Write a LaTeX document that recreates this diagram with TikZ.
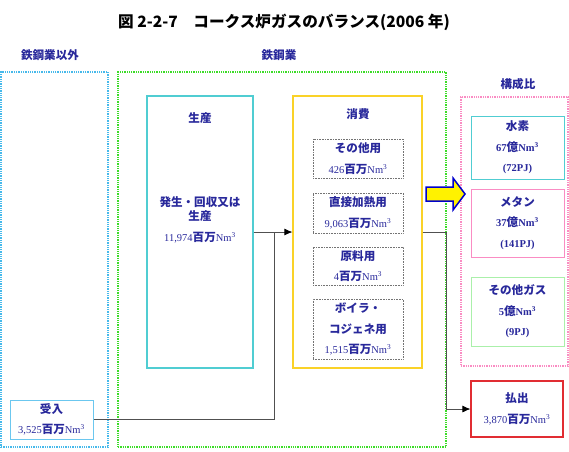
\documentclass[tikz,border=0pt]{standalone}
\usepackage{fontspec}
\setmainfont{Liberation Serif}
\newfontfamily\jpfont[Scale=1.1]{Noto Sans CJK JP}
\usepackage{tikz}
\usetikzlibrary{arrows.meta,positioning}
\definecolor{BalNavy}{RGB}{40,40,155}
\definecolor{BalCyan}{RGB}{70,185,235}
\definecolor{BalTeal}{RGB}{80,205,210}
\definecolor{BalGreen}{RGB}{60,220,40}
\definecolor{BalPink}{RGB}{250,140,195}
\definecolor{BalGold}{RGB}{250,210,40}
\definecolor{BalRed}{RGB}{225,45,50}
\definecolor{BalMint}{RGB}{170,240,170}
\definecolor{BalLine}{RGB}{80,80,80}
\newcommand{\jp}[1]{{\jpfont\bfseries #1}}
\newcommand{\mnm}{\jp{百万}Nm\textsuperscript{3}}
\newcommand{\onm}{\jp{億}Nm\textsuperscript{3}}

\begin{document}
\begin{tikzpicture}[
    x=1pt, y=-1pt,
    txt/.style={text=BalNavy, font=\fontsize{10.5}{20.5}\selectfont, align=center, inner sep=0pt},
    zone/.style={densely dotted, line width=1.3pt, minimum width=#1, inner sep=0pt},
    box/.style={txt, line width=1.2pt, minimum width=92pt},
    subbox/.style={txt, draw=BalLine!80, densely dotted, line width=0.6pt, minimum width=90pt},
    flow/.style={draw=BalLine, line width=0.7pt},
    arrow/.style={flow, -{Latex[length=8pt,width=7pt,color=black,fill=black]}}
  ]
    \useasboundingbox (0,0) rectangle (569,451);
    \node[zone=107pt, draw=BalCyan, minimum height=375pt] (other) at (54.5,259.5) {};
    \node[zone=328pt, draw=BalGreen, minimum height=375pt] (steel) at (282,259.5) {};
    \node[zone=107pt, draw=BalPink, minimum height=269pt] (ratio) at (514.5,231.5) {};
    \node[font=\jpfont\bfseries\fontsize{14.2}{16}\selectfont] (title) at (284,22) {図 2-2-7　コークス炉ガスのバランス(2006 年)};
    \node[txt] (otherlbl) at (50,55) {\jp{鉄鋼業以外}};
    \node[txt] (steellbl) at (279,55) {\jp{鉄鋼業}};
    \node[txt] (ratiolbl) at (518,84) {\jp{構成比}};
    \node[box, draw=BalTeal, minimum width=106pt, minimum height=272pt] (prod) at (200,232) {};
    \node[txt] (prodlbl) at (200,118) {\jp{生産}};
    \node[txt] (prodtxt) at (200,220) {\jp{発生・回収又は}\\[-6.5pt]\jp{生産}\\11,974\mnm};
    \node[box, draw=BalGold, minimum width=129pt, minimum height=272pt] (cons) at (357.5,232) {};
    \node[txt] (conslbl) at (358,114) {\jp{消費}};
    \node[subbox, minimum height=39pt] (misc) at (358,158.5) {\jp{その他用}\\426\mnm};
    \node[subbox, minimum height=40pt] (heat) at (358,213) {\jp{直接加熱用}\\9,063\mnm};
    \node[subbox, minimum height=38pt] (feed) at (358,266) {\jp{原料用}\\4\mnm};
    \node[subbox, minimum height=60pt] (boil) at (358,329) {\jp{ボイラ・}\\\jp{コジェネ用}\\1,515\mnm};
    \node[box, draw=BalCyan!80, line width=1pt, minimum width=83pt, minimum height=39pt] (recv) at (51.5,419.5) {\jp{受入}\\3,525\mnm};
    \node[box, draw=BalRed, minimum height=56pt] (out) at (517,409) {\jp{払出}\\3,870\mnm};
    \node[box, draw=BalTeal, line width=1pt, minimum width=93pt, minimum height=63pt, font=\bfseries\fontsize{10.5}{20.5}\selectfont] (hydro) at (517.5,147.5) {\jp{水素}\\67\onm\\(72PJ)};
    \node[box, draw=BalPink, line width=1pt, minimum width=93pt, minimum height=68pt, font=\bfseries\fontsize{10.5}{20.5}\selectfont] (meth) at (517.5,223) {\jp{メタン}\\37\onm\\(141PJ)};
    \node[box, draw=BalMint, line width=1pt, minimum width=93pt, minimum height=69pt, font=\bfseries\fontsize{10.5}{20.5}\selectfont] (rest) at (517.5,311.5) {\jp{その他ガス}\\5\onm\\(9PJ)};
    \coordinate (join) at (274,232);
    \coordinate (bend) at (446,232);
    \draw[arrow] (prod) -- (cons);
    \draw[flow] (recv.east) -| (join);
    \draw[arrow] (cons.east) -- (bend) |- (out.west);
    \draw[draw=blue!80!black, fill=yellow, line width=1.5pt, line join=miter] (426,187) -- (453,187) -- (453,178) -- (465,194) -- (453,210) -- (453,201) -- (426,201) -- cycle;
  \end{tikzpicture}
\end{document}
